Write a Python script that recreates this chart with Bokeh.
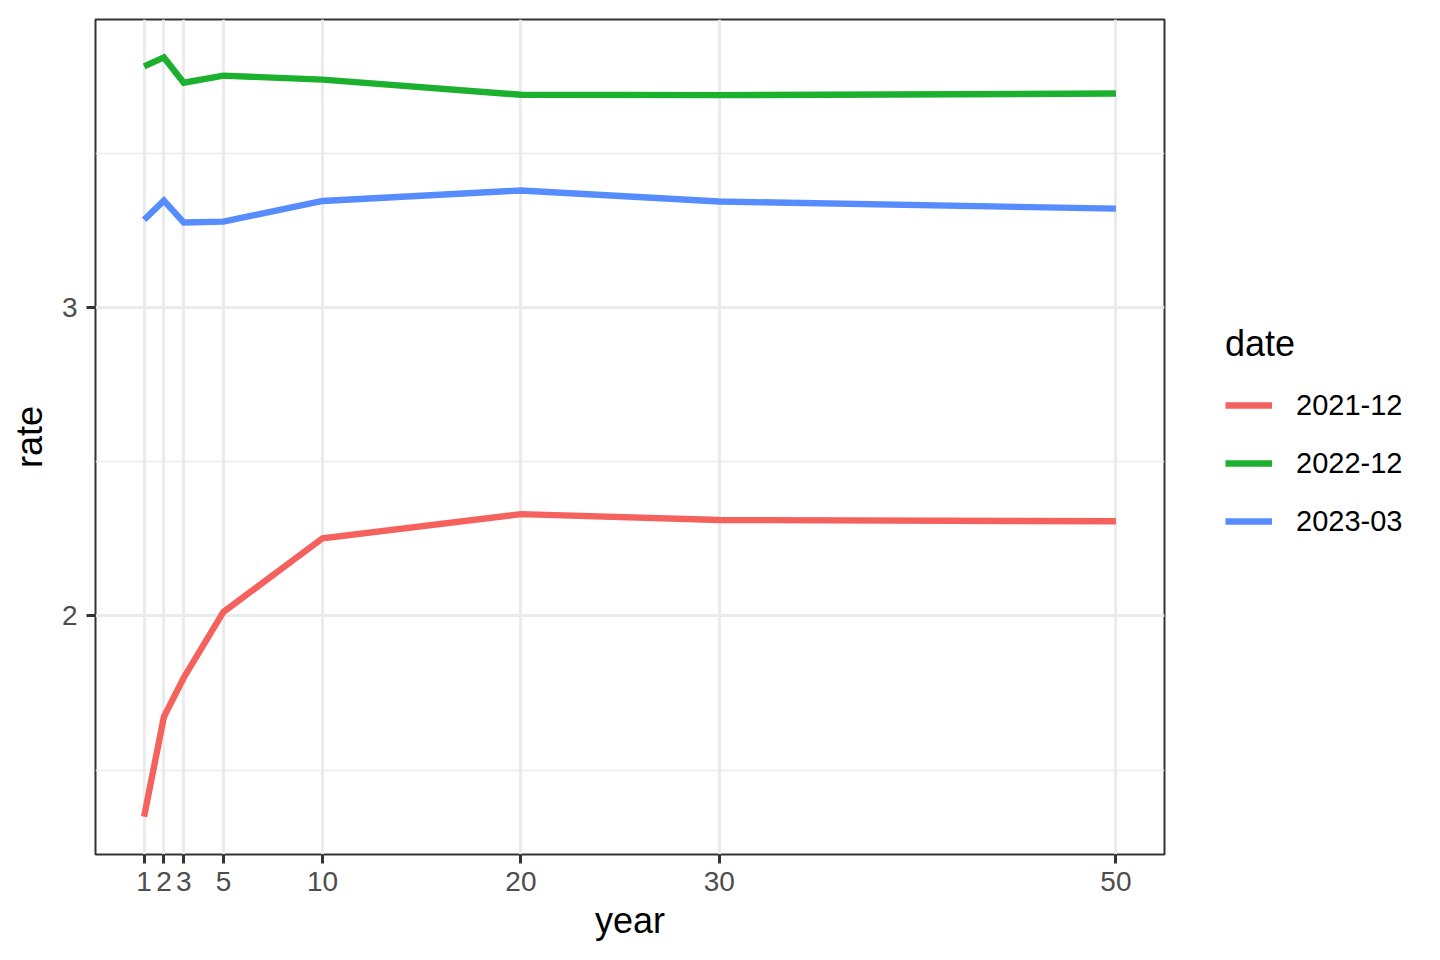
from bokeh.plotting import figure
from bokeh.layouts import row
from bokeh.models import Range1d, FixedTicker, Legend, LegendItem
from bokeh.embed import file_html
from bokeh.resources import INLINE

# ---- data ----
years = [1, 2, 3, 5, 10, 20, 30, 50]
dates = ["2021-12", "2022-12", "2023-03"]
rate_2021_12 = [1.350, 1.673, 1.800, 2.013, 2.252, 2.330, 2.311, 2.307]
rate_2022_12 = [3.781, 3.810, 3.728, 3.751, 3.738, 3.689, 3.688, 3.693]
rate_2023_03 = [3.284, 3.346, 3.275, 3.278, 3.345, 3.379, 3.343, 3.320]
x_breaks = [1, 2, 3, 5, 10, 20, 30, 50]
y_breaks = [2, 3]
y_minor_breaks = [1.5, 2.5, 3.5]
colors = ["#F5615C", "#1BB12E", "#578CFF"]

series = [rate_2021_12, rate_2022_12, rate_2023_03]

# ggplot-like 5% expansion
all_y = rate_2021_12 + rate_2022_12 + rate_2023_03
ymin, ymax = min(all_y), max(all_y)
ypad = (ymax - ymin) * 0.05
xmin, xmax = min(years), max(years)
xpad = (xmax - xmin) * 0.05

FONT = "Liberation Sans"
H = 954

p = figure(width=1180, height=H, output_backend="svg", toolbar_location=None,
           x_range=Range1d(xmin - xpad, xmax + xpad),
           y_range=Range1d(ymin - ypad, ymax + ypad),
           min_border_left=95, min_border_right=16,
           min_border_top=19, min_border_bottom=100)

p.background_fill_color = "white"
p.border_fill_color = "white"
p.outline_line_color = "#333333"
p.outline_line_width = 2

# axes
p.xaxis.ticker = FixedTicker(ticks=x_breaks)
p.yaxis.ticker = FixedTicker(ticks=y_breaks, minor_ticks=y_minor_breaks)
for ax in (p.xaxis[0], p.yaxis[0]):
    ax.axis_line_color = None
    ax.major_tick_line_color = "#333333"
    ax.major_tick_line_width = 3
    ax.major_tick_out = 9
    ax.major_tick_in = 0
    ax.minor_tick_line_color = None
    ax.major_label_text_font = FONT
    ax.major_label_text_font_size = "28px"
    ax.major_label_text_color = "#4D4D4D"
    ax.axis_label_text_font = FONT
    ax.axis_label_text_font_size = "36px"
    ax.axis_label_text_font_style = "normal"
    ax.axis_label_text_color = "black"
p.xaxis.axis_label = "year"
p.yaxis.axis_label = "rate"
p.xaxis.major_label_standoff = 8
p.xaxis.axis_label_standoff = 6
p.yaxis.major_label_standoff = 9
p.yaxis.axis_label_standoff = 9

# grid
p.xgrid.ticker = FixedTicker(ticks=x_breaks)
p.xgrid.grid_line_color = "#EBEBEB"
p.xgrid.grid_line_width = 3
p.ygrid.ticker = FixedTicker(ticks=y_breaks, minor_ticks=y_minor_breaks)
p.ygrid.grid_line_color = "#EBEBEB"
p.ygrid.grid_line_width = 3
p.ygrid.minor_grid_line_color = "#EBEBEB"
p.ygrid.minor_grid_line_width = 1.5

for name, vals, col in zip(dates, series, colors):
    p.line(years, vals, line_color=col, line_width=6.4, line_join="miter")

# ---- legend panel (separate, axis-less figure to the right) ----
# its ranges lie outside the data, so only the legend is visible there
lf = figure(width=260, height=H, output_backend="svg", toolbar_location=None,
            x_range=Range1d(-20, -19), y_range=Range1d(-20, -19),
            min_border=0, outline_line_color=None)
lf.axis.visible = False
lf.grid.visible = False
lf.background_fill_color = "white"
lf.border_fill_color = "white"

items = []
for name, vals, col in zip(dates, series, colors):
    r = lf.line(years, vals, line_color=col, line_width=6.4)
    items.append(LegendItem(label=name, renderers=[r]))

legend = Legend(items=items, location=(45, 313), title="date",
                title_text_font=FONT, title_text_font_size="36px",
                title_text_font_style="normal", title_text_color="black",
                title_standoff=20,
                label_text_font=FONT, label_text_font_size="29px",
                label_text_color="black",
                glyph_width=47, glyph_height=40, spacing=18,
                label_standoff=24, padding=0, margin=0,
                border_line_color=None, background_fill_alpha=0)
lf.add_layout(legend, "center")

layout = row(p, lf)
open("out.html", "w").write(file_html(layout, INLINE))
